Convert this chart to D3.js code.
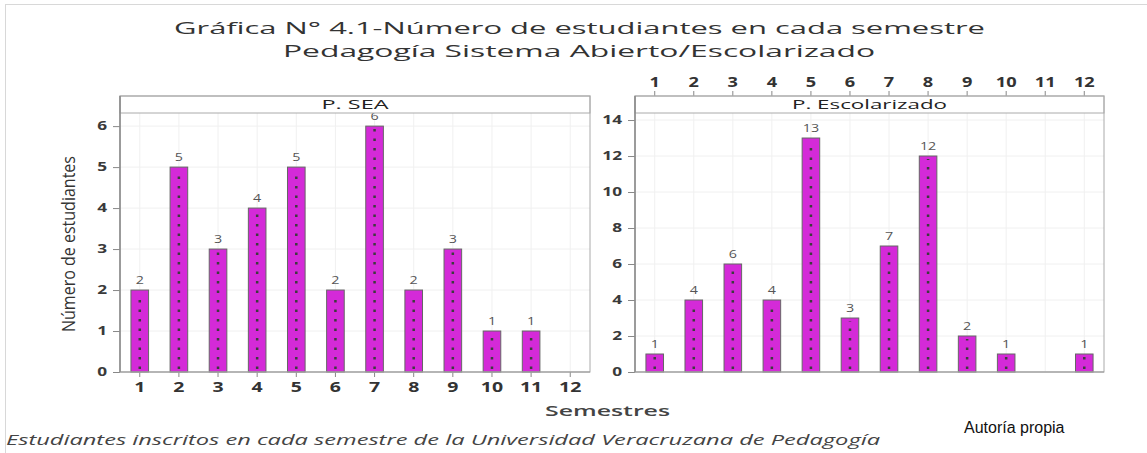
<!DOCTYPE html>
<html>
<head>
<meta charset="utf-8">
<script src="https://cdn.jsdelivr.net/npm/d3@7"></script>
<style>
  body { margin: 0; background: #fff; }
  svg { display: block; }
</style>
</head>
<body>
<div id="chart"></div>
<script>
// data
const semesters = ["1", "2", "3", "4", "5", "6", "7", "8", "9", "10", "11", "12"];
const seaValues = [2, 5, 3, 4, 5, 2, 6, 2, 3, 1, 1, 0];
const escValues = [1, 4, 6, 4, 13, 3, 7, 12, 2, 1, 0, 1];
const seaTicks = [0, 1, 2, 3, 4, 5, 6];
const escTicks = [0, 2, 4, 6, 8, 10, 12, 14];

const W = 1147, H = 453;
const barFill = "#d42ad8";
const font = "'Open Sans', 'DejaVu Sans', sans-serif";

const svg = d3.select("#chart").append("svg")
  .attr("width", W).attr("height", H);

// outer light frame
svg.append("rect")
  .attr("x", 5.5).attr("y", 4.5).attr("width", W + 20).attr("height", H + 20)
  .attr("fill", "none").attr("stroke", "#d8d8d8");

// titles
function stretchedText(x, y, txt, len, size, opts) {
  opts = opts || {};
  return svg.append("text")
    .attr("x", x).attr("y", y)
    .attr("textLength", len).attr("lengthAdjust", "spacingAndGlyphs")
    .style("font-family", opts.family || font)
    .style("font-size", size + "px")
    .style("font-weight", opts.weight || 400)
    .style("font-style", opts.style || "normal")
    .attr("fill", opts.fill || "#333")
    .text(txt);
}
stretchedText(174, 34, "Gráfica N° 4.1-Número de estudiantes en cada semestre", 811, 17);
stretchedText(283, 57, "Pedagogía Sistema Abierto/Escolarizado", 592, 17);

// panels
const panelTop = 96, stripH = 17, plotBottom = 372;
const plotTop = panelTop + stripH;

function drawPanel(cfg) {
  const g = svg.append("g");
  const x = d3.scaleBand()
    .domain(semesters)
    .range([cfg.x0, cfg.x1])
    .paddingInner(0.55)
    .paddingOuter(0.28);
  const y = d3.scaleLinear()
    .domain([0, cfg.yMax])
    .range([plotBottom, plotTop]);

  // grid
  g.append("g").selectAll("line.vg")
    .data(semesters).enter().append("line")
      .attr("x1", d => x(d) + x.bandwidth() / 2)
      .attr("x2", d => x(d) + x.bandwidth() / 2)
      .attr("y1", plotTop).attr("y2", plotBottom)
      .attr("stroke", "#f0f0f0");
  g.append("g").selectAll("line.hg")
    .data(cfg.ticks).enter().append("line")
      .attr("x1", cfg.x0).attr("x2", cfg.x1)
      .attr("y1", d => y(d)).attr("y2", d => y(d))
      .attr("stroke", "#f0f0f0");

  const data = semesters.map((s, i) => ({ s: s, v: cfg.values[i] })).filter(d => d.v > 0);

  // bars
  g.append("g").selectAll("rect")
    .data(data).enter().append("rect")
      .attr("x", d => x(d.s))
      .attr("y", d => y(d.v))
      .attr("width", x.bandwidth())
      .attr("height", d => plotBottom - y(d.v))
      .attr("fill", barFill)
      .attr("stroke", "#666")
      .attr("stroke-width", 1);

  // dotted pattern inside bars
  g.append("g").selectAll("path")
    .data(data).enter().append("path")
      .attr("d", d => {
        const cx = x(d.s) + x.bandwidth() / 2;
        return "M" + cx + "," + (plotBottom - 3) + "V" + (y(d.v) + 3);
      })
      .attr("stroke", "#3c3c3c")
      .attr("stroke-width", 2.5)
      .attr("stroke-dasharray", "2.5,7")
      .attr("fill", "none");

  // value labels (clipped to plot area)
  const clipId = "clip" + cfg.id;
  svg.append("clipPath").attr("id", clipId)
    .append("rect")
      .attr("x", cfg.x0).attr("y", plotTop)
      .attr("width", cfg.x1 - cfg.x0).attr("height", plotBottom - plotTop);
  g.append("g").attr("clip-path", "url(#" + clipId + ")")
    .selectAll("text")
    .data(data).enter().append("text")
      .attr("transform", d => "translate(" + (x(d.s) + x.bandwidth() / 2) + "," + (y(d.v) - 6) + ") scale(1.3,1)")
      .attr("text-anchor", "middle")
      .style("font-family", font)
      .style("font-size", "11px")
      .attr("fill", "#555")
      .text(d => d.v);

  // y axis
  const yAxis = g.append("g")
    .attr("transform", "translate(" + cfg.x0 + ",0)")
    .call(d3.axisLeft(y).tickValues(cfg.ticks).tickFormat(d3.format("d")).tickSize(7).tickPadding(6));
  yAxis.select(".domain").remove();
  yAxis.selectAll("line").attr("stroke", "#888");
  yAxis.selectAll("text")
    .attr("x", -13 / 1.5)
    .attr("transform", "scale(1.5,1)")
    .style("font-family", font)
    .style("font-size", "11.5px")
    .style("font-weight", 700)
    .attr("fill", "#3a3a3a");

  // x axis (bottom on the left panel, top on the right panel)
  const xAxis = g.append("g");
  if (cfg.xTop) {
    xAxis.attr("transform", "translate(0," + panelTop + ")")
      .call(d3.axisTop(x).tickSize(5).tickPadding(4));
  } else {
    xAxis.attr("transform", "translate(0," + plotBottom + ")")
      .call(d3.axisBottom(x).tickSize(5).tickPadding(4));
  }
  xAxis.select(".domain").remove();
  xAxis.selectAll("line").attr("stroke", "#888");
  xAxis.selectAll("text")
    .attr("transform", "scale(1.3,1)")
    .style("font-family", font)
    .style("font-size", cfg.xTop ? "14px" : "15px")
    .style("font-weight", 700)
    .attr("fill", "#333");

  // frame and strip
  g.append("rect")
    .attr("x", cfg.x0).attr("y", panelTop)
    .attr("width", cfg.x1 - cfg.x0).attr("height", stripH)
    .attr("fill", "#fff").attr("stroke", "#aaa");
  g.append("rect")
    .attr("x", cfg.x0).attr("y", panelTop)
    .attr("width", cfg.x1 - cfg.x0).attr("height", plotBottom - panelTop)
    .attr("fill", "none").attr("stroke", "#aaa");
  g.append("line")
    .attr("x1", cfg.x0).attr("x2", cfg.x0)
    .attr("y1", panelTop).attr("y2", plotBottom)
    .attr("stroke", "#888").attr("stroke-width", 1.5);
  g.append("line")
    .attr("x1", cfg.x0).attr("x2", cfg.x1)
    .attr("y1", plotBottom).attr("y2", plotBottom)
    .attr("stroke", "#999").attr("stroke-width", 1.2);

  g.append("text")
    .attr("x", (cfg.x0 + cfg.x1) / 2 - cfg.stripLen / 2)
    .attr("y", panelTop + 13)
    .attr("textLength", cfg.stripLen).attr("lengthAdjust", "spacingAndGlyphs")
    .style("font-family", font)
    .style("font-size", "13.5px")
    .style("font-weight", 400)
    .attr("fill", "#222")
    .text(cfg.label);
}

drawPanel({ id: "sea", x0: 120, x1: 590, yMax: 6.32, ticks: seaTicks, values: seaValues,
            label: "P. SEA", stripLen: 67, xTop: false });
drawPanel({ id: "esc", x0: 635, x1: 1104, yMax: 14.39, ticks: escTicks, values: escValues,
            label: "P. Escolarizado", stripLen: 155, xTop: true });

// axis titles
svg.append("text")
  .attr("transform", "translate(75,244) rotate(-90)")
  .attr("x", -88)
  .attr("textLength", 176).attr("lengthAdjust", "spacingAndGlyphs")
  .style("font-family", font)
  .style("font-size", "19px")
  .attr("fill", "#333")
  .text("Número de estudiantes");

stretchedText(545, 416, "Semestres", 125, 15, { weight: 600, fill: "#444" });

// footer notes
stretchedText(6, 445, "Estudiantes inscritos en cada semestre de la Universidad Veracruzana de Pedagogía", 874, 15,
  { style: "italic", fill: "#444" });
svg.append("text")
  .attr("x", 964).attr("y", 433)
  .style("font-family", "'Liberation Sans', Arial, sans-serif")
  .style("font-size", "16px")
  .attr("fill", "#111")
  .text("Autoría propia");
</script>
</body>
</html>
